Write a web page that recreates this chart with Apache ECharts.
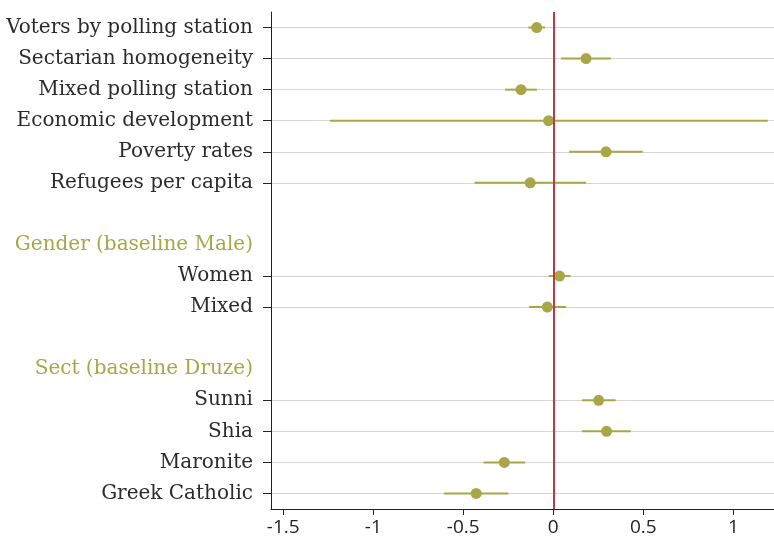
<!DOCTYPE html>
<html>
<head>
<meta charset="utf-8">
<script src="https://cdn.jsdelivr.net/npm/echarts@6/dist/echarts.min.js"></script>
<style>
  html, body { margin: 0; padding: 0; background: #fff; }
  #chart { width: 774px; height: 538px; }
</style>
</head>
<body>
<div id="chart"></div>
<script>
// Row labels, top to bottom (blank rows are spacers)
const rowLabels = [
  'Voters by polling station',
  'Sectarian homogeneity',
  'Mixed polling station',
  'Economic development',
  'Poverty rates',
  'Refugees per capita',
  ' ',
  'Gender (baseline Male)',
  'Women',
  'Mixed',
  '  ',
  'Sect (baseline Druze)',
  'Sunni',
  'Shia',
  'Maronite',
  'Greek Catholic'
];
const headerLabels = ['Gender (baseline Male)', 'Sect (baseline Druze)'];

// Point estimates and confidence bounds (null where the row has no estimate)
const estimates = [-0.092, 0.182, -0.179, -0.026, 0.293, -0.128, null, null, 0.035, -0.033, null, null, 0.252, 0.296, -0.272, -0.428];
const lowerCI   = [-0.139, 0.043, -0.268, -1.241, 0.089, -0.437, null, null, -0.026, -0.135, null, null, 0.159, 0.159, -0.387, -0.607];
const upperCI   = [-0.046, 0.320, -0.091, 1.191, 0.497, 0.183, null, null, 0.097, 0.071, null, null, 0.346, 0.430, -0.157, -0.250];

const xTicks = [-1.5, -1, -0.5, 0, 0.5, 1];

const olive = '#a8a747';
const isDataRow = (i) => estimates[i] !== null;

const pointData = [];
const ciData = [];
estimates.forEach((v, i) => {
  if (v === null) return;
  pointData.push([v, i]);
  ciData.push([lowerCI[i], upperCI[i], i]);
});

const chart = echarts.init(document.getElementById('chart'), null, { renderer: 'canvas' });
chart.setOption({
  animation: false,
  backgroundColor: '#ffffff',
  grid: { left: 271, right: 0, top: 12, bottom: 29, containLabel: false },
  xAxis: {
    type: 'value',
    min: -1.568,
    max: 1.226,
    axisLine: { show: true, onZero: false, lineStyle: { color: '#222', width: 1 } },
    axisTick: { show: true, length: 6, customValues: xTicks, lineStyle: { color: '#222' } },
    axisLabel: {
      customValues: xTicks,
      margin: 9,
      fontFamily: 'Open Sans',
      fontSize: 19,
      color: '#222'
    },
    splitLine: { show: false }
  },
  yAxis: {
    type: 'category',
    inverse: true,
    data: rowLabels,
    boundaryGap: true,
    axisLine: { show: true, onZero: false, lineStyle: { color: '#222', width: 1 } },
    axisTick: {
      show: true,
      alignWithLabel: true,
      length: 8,
      interval: (i) => isDataRow(i),
      lineStyle: { color: '#222' }
    },
    splitLine: {
      show: true,
      alignWithLabel: true,
      interval: (i) => isDataRow(i),
      lineStyle: { color: '#d4d4d4', width: 1 }
    },
    axisLabel: {
      interval: 0,
      margin: 18,
      formatter: (v) => headerLabels.includes(v) ? '{h|' + v + '}' : '{n|' + v + '}',
      rich: {
        n: { fontFamily: 'DejaVu Serif', fontSize: 20, color: '#2b2b2b' },
        h: { fontFamily: 'DejaVu Serif', fontSize: 20, color: olive }
      }
    }
  },
  series: [
    {
      // confidence intervals
      type: 'custom',
      z: 2,
      data: ciData,
      encode: { x: [0, 1], y: 2 },
      renderItem: (params, api) => {
        const a = api.coord([api.value(0), api.value(2)]);
        const b = api.coord([api.value(1), api.value(2)]);
        return {
          type: 'line',
          shape: { x1: a[0], y1: a[1], x2: b[0], y2: b[1] },
          style: { stroke: olive, lineWidth: 2 }
        };
      }
    },
    {
      // zero reference line
      type: 'line',
      z: 3,
      data: [],
      markLine: {
        silent: true,
        symbol: 'none',
        label: { show: false },
        lineStyle: { color: '#cc3340', width: 2, type: 'solid' },
        data: [{ xAxis: 0 }]
      }
    },
    {
      type: 'scatter',
      z: 4,
      data: pointData,
      symbol: 'circle',
      symbolSize: 11,
      itemStyle: { color: olive, opacity: 1 }
    }
  ]
});
</script>
</body>
</html>
